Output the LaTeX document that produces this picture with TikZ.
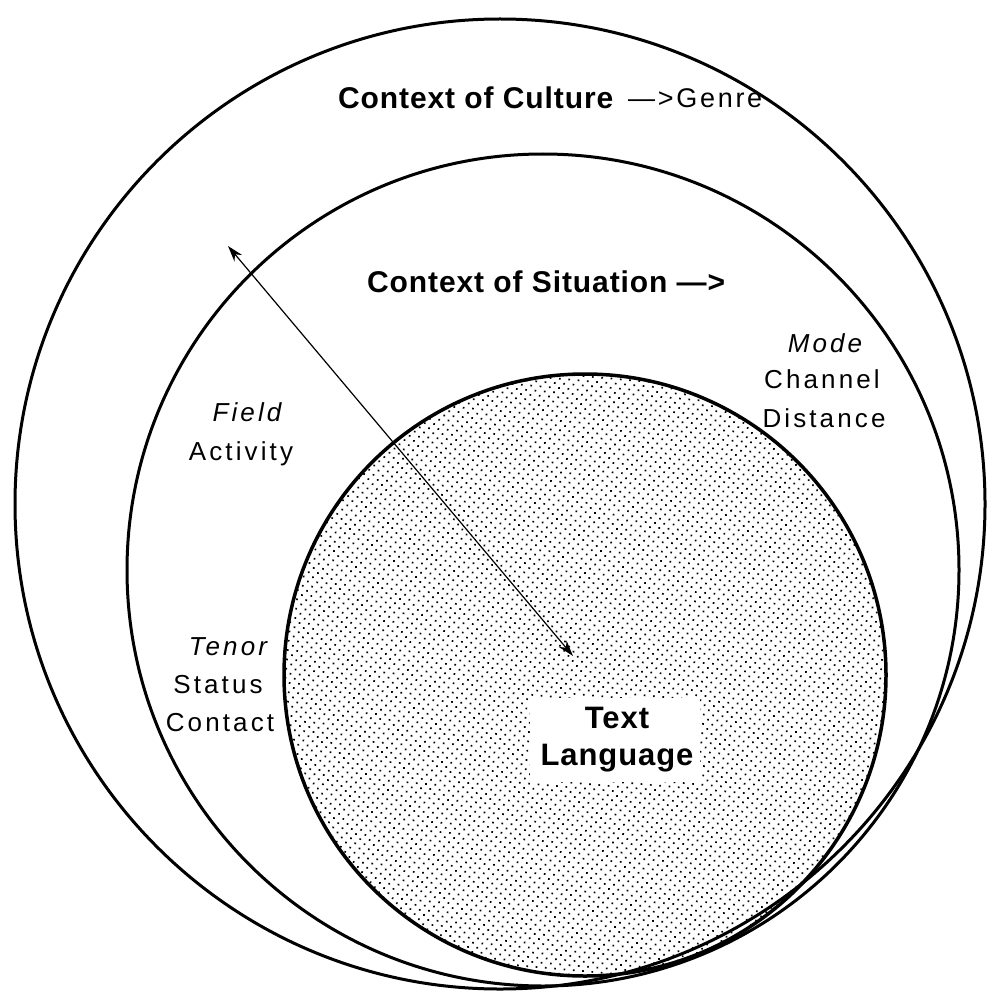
\documentclass[tikz,border=0pt]{standalone}
\usepackage{fontspec}
\setmainfont{Liberation Sans}
\newfontfamily\lsans[LetterSpace=12]{Liberation Sans}
\newfontfamily\gsans[LetterSpace=10]{Liberation Sans}
\newfontfamily\bsans[LetterSpace=3]{Liberation Sans}
\usetikzlibrary{patterns.meta,arrows.meta}
\begin{document}
\begin{tikzpicture}[x=1pt,y=-1pt,
  ring/.style={draw=black,line width=3pt},
  lbl/.style={font=\lsans\fontsize{26}{36}\selectfont, inner sep=0pt, text height=18.6pt, text depth=0pt},
  ilbl/.style={lbl, font=\lsans\itshape\fontsize{26}{36}\selectfont},
  head/.style={font=\bsans\bfseries\fontsize{30}{36}\selectfont, inner sep=0pt, text height=21.5pt, text depth=0pt, anchor=west},
  both/.style={{Stealth[length=16pt,width=10pt]}-{Stealth[length=16pt,width=10pt]}, line width=1.2pt}
]
\useasboundingbox (0,0) rectangle (987,995);
\fill[white] (0,0) rectangle (987,995);
% circles
\draw[ring] (500,504) circle[radius=485pt];
\draw[ring] (543,570) circle[radius=416pt];
\draw[ring, line width=3.5pt, pattern={Dots[distance=6.6pt,radius=1.2pt,angle=40]}, pattern color=black] (585,675) circle[radius=301pt];
% text box
\node[fill=white, minimum width=170pt, minimum height=84pt, inner sep=0pt] (textbox) at (615,740) {};
\node[font=\bsans\bfseries\fontsize{31}{37}\selectfont, align=center, inner sep=0pt] (textlang) at (617,740) {Text\\Language};
% arrow
\coordinate (a1) at (573,656);
\coordinate (a2) at (228,246);
\draw[both] (a2) -- (a1);
% headings
\node[head] (culture) at (338,98) {Context of Culture};
\node[font=\gsans\fontsize{27}{36}\selectfont, inner sep=0pt, text height=19.3pt, text depth=0pt, anchor=west] (genre) at (628,98) {—>Genre};
\node[head] (situation) at (367,282) {Context of Situation —>};
% mode
\node[ilbl] (mode) at (825,343) {Mode};
\node[lbl] (channel) at (822,379) {Channel};
\node[lbl] (distance) at (824,418) {Distance};
% field
\node[ilbl] (field) at (247,412) {Field};
\node[lbl] (activity) at (241,451) {Activity};
% tenor
\node[ilbl] (tenor) at (228,646) {Tenor};
\node[lbl] (status) at (218,684) {Status};
\node[lbl] (contact) at (220,722) {Contact};
\end{tikzpicture}
\end{document}
